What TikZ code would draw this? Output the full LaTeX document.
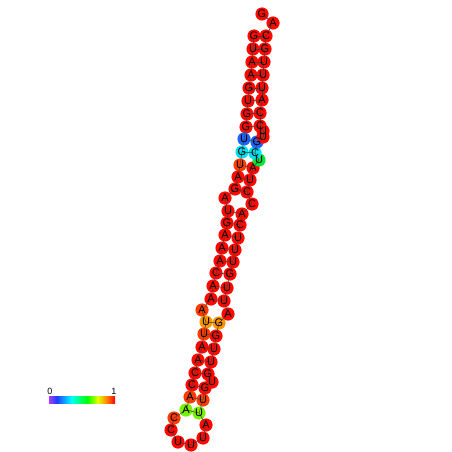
\documentclass[tikz,border=0pt]{standalone}
\usepackage{fontspec}
\setmainfont{Liberation Sans}
\pgfdeclarelayer{discs}
\pgfdeclarelayer{bonds}
\pgfsetlayers{discs,bonds,main}
\definecolor{nred}{RGB}{255,8,0}
\definecolor{nored}{RGB}{255,60,0}
\definecolor{norange}{RGB}{255,150,0}
\definecolor{nblue}{RGB}{30,100,255}
\definecolor{ncyan}{RGB}{0,225,240}
\definecolor{ngreen}{RGB}{0,230,50}
\definecolor{nlime}{RGB}{120,240,0}
\definecolor{bviolet}{RGB}{170,60,255}
\definecolor{bblue}{RGB}{30,60,255}
\pgfdeclarehorizontalshading{probbar}{100bp}{%
  color(0bp)=(bviolet); color(25bp)=(bviolet); color(31bp)=(bblue);
  color(42bp)=(cyan); color(54bp)=(green); color(62bp)=(yellow!90!green);
  color(69bp)=(orange); color(75bp)=(red); color(100bp)=(red)}
% one nucleotide: letter on main layer, coloured disc underneath
\newcommand\rnabase[5]{%
  \node[basetext] (#1) at (#2,#3) {#4};
  \begin{pgfonlayer}{discs}\fill[#5] (#2,#3) circle (6.6);\end{pgfonlayer}}

\begin{document}
\begin{tikzpicture}[x=1pt,y=-1pt]
\tikzset{
  basetext/.style={circle,inner sep=0pt,minimum size=13pt,font=\fontsize{11}{11}\selectfont},
  bond/.style={draw=black!75,line width=0.5pt},
  barlabel/.style={inner sep=0pt,font=\fontsize{9}{9}\selectfont}
}
\useasboundingbox (0,0) rectangle (452,452);
% 5' strand, top to bottom
\rnabase{n1}{254}{36}{G}{nred}
\rnabase{n2}{253}{49}{U}{nred}
\rnabase{n3}{252}{62}{A}{nred}
\rnabase{n4}{251}{75}{A}{nred}
\rnabase{n5}{249}{88}{G}{nred}
\rnabase{n6}{248}{101}{U}{nred}
\rnabase{n7}{247}{114}{G}{nred}
\rnabase{n8}{246}{127}{G}{nred}
\rnabase{n9}{244}{139}{U}{nblue}
\rnabase{n10}{242}{152}{G}{ncyan}
\rnabase{n11}{240}{165}{U}{nored}
\rnabase{n12}{238}{177}{A}{nred}
\rnabase{n13}{235}{189}{G}{nred}
\rnabase{n14}{225}{198}{A}{nred}
\rnabase{n15}{228}{211}{U}{nred}
\rnabase{n16}{227}{223}{G}{nred}
\rnabase{n17}{225}{235}{A}{nred}
\rnabase{n18}{222}{248}{A}{nred}
\rnabase{n19}{220}{261}{A}{nred}
\rnabase{n20}{216}{273}{C}{nred}
\rnabase{n21}{213}{286}{A}{nred}
\rnabase{n22}{211}{299}{A}{nred}
\rnabase{n23}{202}{310}{A}{nored}
\rnabase{n24}{206}{322}{U}{norange}
\rnabase{n25}{204}{334}{U}{nored}
\rnabase{n26}{202}{347}{A}{nred}
\rnabase{n27}{198}{360}{A}{nred}
\rnabase{n28}{195}{373}{C}{nred}
\rnabase{n29}{192}{385}{C}{nred}
\rnabase{n30}{190}{397}{A}{nored}
\rnabase{n31}{186}{410}{A}{nlime}
% hairpin loop
\rnabase{n32}{174}{418}{C}{nored}
\rnabase{n33}{171}{430}{C}{nred}
\rnabase{n34}{178}{442}{U}{nred}
\rnabase{n35}{191}{445}{U}{nred}
\rnabase{n36}{203}{438}{U}{nred}
\rnabase{n37}{206}{425}{A}{nred}
% 3' strand, bottom to top
\rnabase{n38}{199}{413}{U}{nlime}
\rnabase{n39}{203}{400}{U}{nored}
\rnabase{n40}{205}{388}{G}{nred}
\rnabase{n41}{212}{382}{U}{nred}
\rnabase{n42}{208}{374}{G}{nred}
\rnabase{n43}{211}{362}{U}{nred}
\rnabase{n44}{214}{349}{U}{nred}
\rnabase{n45}{216}{336}{G}{nred}
\rnabase{n46}{219}{323}{G}{norange}
\rnabase{n47}{228}{314}{A}{nred}
\rnabase{n48}{224}{301}{U}{nred}
\rnabase{n49}{227}{288}{U}{nred}
\rnabase{n50}{230}{274}{G}{nred}
\rnabase{n51}{233}{262}{U}{nred}
\rnabase{n52}{235}{250}{U}{nred}
\rnabase{n53}{238}{238}{U}{nred}
\rnabase{n54}{240}{225}{C}{nred}
\rnabase{n55}{242}{214}{A}{nred}
\rnabase{n56}{252}{204}{C}{nred}
\rnabase{n57}{247}{192}{C}{nred}
\rnabase{n58}{250}{180}{U}{nred}
\rnabase{n59}{253}{168}{A}{nred}
\rnabase{n60}{259}{160}{U}{ngreen}
\rnabase{n61}{255}{153}{C}{ncyan}
\rnabase{n62}{257}{142}{G}{nblue}
\rnabase{n63}{263}{137}{U}{nred}
\rnabase{n64}{263}{131}{U}{nred}
\rnabase{n65}{260}{126}{C}{nred}
\rnabase{n66}{260}{113}{C}{nred}
\rnabase{n67}{262}{100}{A}{nred}
\rnabase{n68}{262}{88}{U}{nred}
\rnabase{n69}{263}{75}{U}{nred}
\rnabase{n70}{264}{62}{U}{nred}
\rnabase{n71}{265}{49}{G}{nred}
\rnabase{n72}{266}{36}{C}{nred}
\rnabase{n73}{273}{23}{A}{nred}
\rnabase{n74}{262}{14}{G}{nred}
\begin{pgfonlayer}{bonds}
% backbone
\foreach \i [evaluate=\i as \j using int(\i+1)] in {1,...,73}
  \draw[bond] (n\i.center) -- (n\j.center);
% base pairs
\foreach \a/\b in {1/72,2/71,3/70,4/69,5/68,6/67,7/66,8/65,9/62,10/61,
  11/59,12/58,13/57,15/55,16/54,17/53,18/52,19/51,20/50,21/49,22/48,
  24/46,25/45,26/44,27/43,28/42,29/40,30/39,31/38}
  \draw[bond] (n\a.center) -- (n\b.center);
\end{pgfonlayer}
% colour scale
\shade[shading=probbar] (49,396) rectangle (115,403);
\node[barlabel,anchor=south] (lab0) at (50,395) {0};
\node[barlabel,anchor=south] (lab1) at (114,395) {1};
\end{tikzpicture}
\end{document}
